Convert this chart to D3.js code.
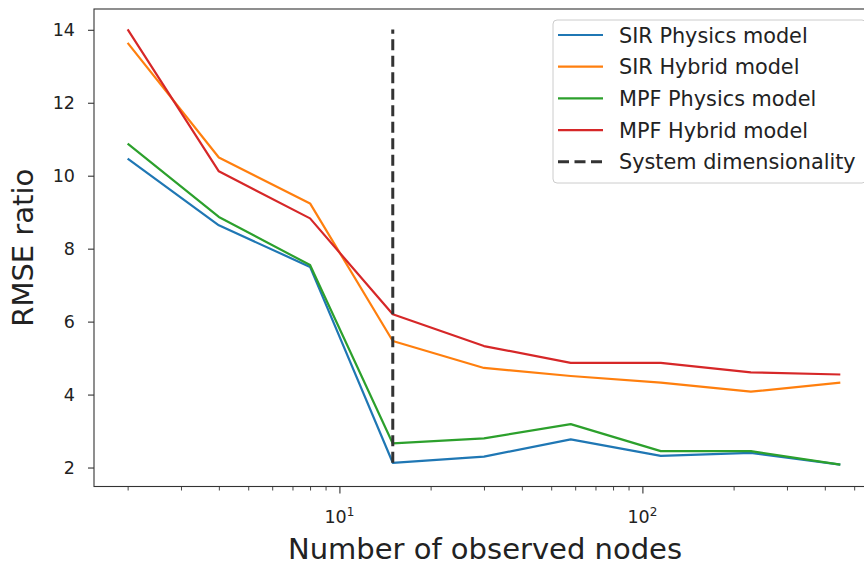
<!DOCTYPE html>
<html>
<head>
<meta charset="utf-8">
<script src="https://cdn.jsdelivr.net/npm/d3@7"></script>
<style>
  body { margin: 0; background: #fff; }
  svg { display: block; font-family: "DejaVu Sans", sans-serif; }
</style>
</head>
<body>
<div id="chart"></div>
<script>
// observed node counts (x, log scale)
var nodes = [2, 4, 8, 15, 30, 58, 115, 228, 450];

var sirPhysics = [10.47, 8.64, 7.50, 2.13, 2.30, 2.77, 2.32, 2.40, 2.08];
var sirHybrid  = [13.64, 10.50, 9.24, 5.47, 4.73, 4.51, 4.33, 4.08, 4.33];
var mpfPhysics = [10.88, 8.87, 7.55, 2.66, 2.80, 3.19, 2.45, 2.45, 2.08];
var mpfHybrid  = [14.01, 10.12, 8.83, 6.20, 5.33, 4.87, 4.87, 4.61, 4.55];

var seriesNames = ["SIR Physics model", "SIR Hybrid model", "MPF Physics model", "MPF Hybrid model"];
var seriesColors = ["#1f77b4", "#ff7f0e", "#2ca02c", "#d62728"];

// system dimensionality marker
var dimX = 15;
var dimRange = [2.13, 14.01];
var dimLabel = "System dimensionality";

var yTicks = [2, 4, 6, 8, 10, 12, 14];
var xMajor = [10, 100];

function chart(id){
    var width = 864, height = 566;
    var left = 94, right = 876, top = 9, bottom = 486.5;

    var series = [sirPhysics, sirHybrid, mpfPhysics, mpfHybrid];

    var xScale = d3.scaleLog()
        .domain([Math.pow(10, 0.19), Math.pow(10, 2.771)])
        .range([left, right]);

    var yScale = d3.scaleLinear()
        .domain([1.48, 14.57])
        .range([bottom, top]);

    var svg = d3.select("#" + id).append("svg")
        .attr("width", width)
        .attr("height", height)
        .attr("viewBox", "0,0," + width + "," + height);

    // lines
    var line = d3.line()
        .x(function(d, i){ return xScale(nodes[i]); })
        .y(function(d){ return yScale(d); });

    svg.selectAll("path.series").data(series).enter().append("path")
        .attr("class", "series")
        .attr("d", line)
        .attr("fill", "none")
        .attr("stroke", function(d, i){ return seriesColors[i]; })
        .attr("stroke-width", 2.2)
        .attr("stroke-linejoin", "round")
        .attr("stroke-linecap", "butt");

    // dashed vertical line
    svg.append("line")
        .attr("x1", xScale(dimX)).attr("x2", xScale(dimX))
        .attr("y1", yScale(dimRange[0])).attr("y2", yScale(dimRange[1]))
        .attr("stroke", "#333")
        .attr("stroke-width", 3)
        .attr("stroke-dasharray", "11,5.5");

    // axes
    var xAxis = d3.axisBottom(xScale)
        .tickValues(xScale.ticks().filter(function(v){ return xMajor.indexOf(v) < 0; }))
        .tickSize(4)
        .tickFormat("");
    var gx = svg.append("g")
        .attr("transform", "translate(0," + bottom + ")")
        .call(xAxis);
    gx.select(".domain").remove();
    gx.selectAll(".tick line").attr("stroke", "#333").attr("stroke-width", 0.9);

    var gxMajor = svg.append("g")
        .attr("transform", "translate(0," + bottom + ")")
        .call(d3.axisBottom(xScale).tickValues(xMajor).tickSize(7).tickFormat(""));
    gxMajor.select(".domain").remove();
    gxMajor.selectAll(".tick line").attr("stroke", "#333").attr("stroke-width", 1.1);

    var xl = svg.selectAll("text.xtick").data(xMajor).enter().append("text")
        .attr("class", "xtick")
        .attr("x", function(d){ return xScale(d); })
        .attr("y", 523)
        .attr("text-anchor", "middle")
        .attr("font-size", 17.5)
        .attr("fill", "#222");
    xl.append("tspan").text("10");
    xl.append("tspan")
        .attr("dy", -7.5)
        .attr("font-size", 12)
        .text(function(d){ return Math.round(Math.log10(d)); });

    var gy = svg.append("g")
        .attr("transform", "translate(" + left + ",0)")
        .call(d3.axisLeft(yScale).tickValues(yTicks).tickSize(6).tickPadding(13));
    gy.select(".domain").remove();
    gy.selectAll(".tick line").attr("stroke", "#333").attr("stroke-width", 1.1);
    gy.selectAll(".tick text")
        .attr("font-family", "DejaVu Sans")
        .attr("font-size", 17.5)
        .attr("fill", "#222");

    // spines
    svg.append("rect")
        .attr("x", left).attr("y", top)
        .attr("width", right - left).attr("height", bottom - top)
        .attr("fill", "none")
        .attr("stroke", "#333")
        .attr("stroke-width", 1.1);

    // axis labels
    svg.append("text")
        .attr("x", (left + right) / 2)
        .attr("y", 559)
        .attr("text-anchor", "middle")
        .attr("font-size", 29)
        .attr("fill", "#222")
        .text("Number of observed nodes");

    svg.append("text")
        .attr("transform", "translate(33," + ((top + bottom) / 2) + ") rotate(-90)")
        .attr("text-anchor", "middle")
        .attr("font-size", 29)
        .attr("fill", "#222")
        .text("RMSE ratio");

    // legend
    var lg = svg.append("g").attr("transform", "translate(553,20)");
    lg.append("rect")
        .attr("x", 0).attr("y", 0)
        .attr("width", 313).attr("height", 163)
        .attr("rx", 4)
        .attr("fill", "#fff").attr("fill-opacity", 0.8)
        .attr("stroke", "#ccc").attr("stroke-width", 1);

    var items = seriesNames.map(function(n, i){ return {name: n, color: seriesColors[i], dash: null}; });
    items.push({name: dimLabel, color: "#333", dash: "11,5.5"});

    var rows = lg.selectAll("g.item").data(items).enter().append("g")
        .attr("class", "item")
        .attr("transform", function(d, i){ return "translate(0," + (15 + i * 31.7) + ")"; });
    rows.append("line")
        .attr("x1", 5).attr("x2", 50)
        .attr("stroke", function(d){ return d.color; })
        .attr("stroke-width", function(d){ return d.dash ? 3 : 2.2; })
        .attr("stroke-dasharray", function(d){ return d.dash; });
    rows.append("text")
        .attr("x", 66)
        .attr("dy", "0.36em")
        .attr("font-size", 20.8)
        .attr("fill", "#222")
        .text(function(d){ return d.name; });
}

chart("chart");
</script>
</body>
</html>
